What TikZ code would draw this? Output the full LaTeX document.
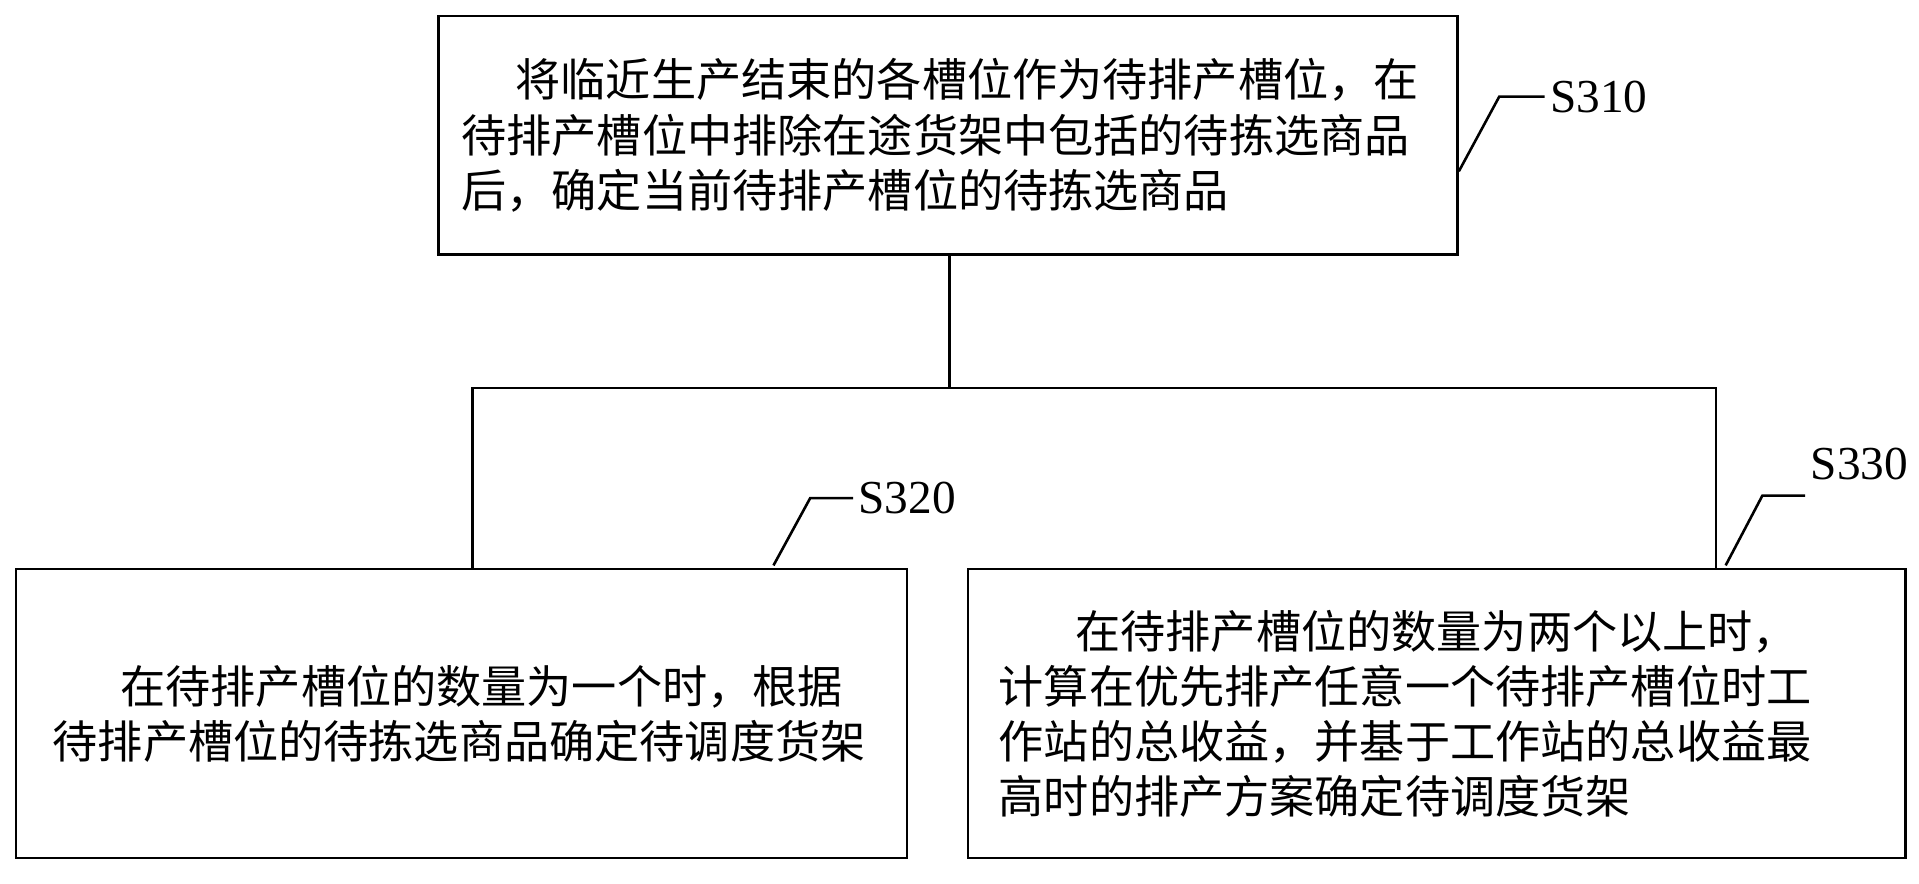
\documentclass[tikz,border=0pt]{standalone}
\usepackage{fontspec}
\setmainfont{Liberation Serif}
\newfontfamily\cjk{Noto Sans CJK SC}
\usetikzlibrary{positioning}
\tikzset{
  stepbox/.style={draw, line width=1.2pt, align=left, anchor=north west,
    font=\cjk\fontsize{21pt}{25.6pt}\selectfont, inner ysep=0pt},
  lbl/.style={font=\fontsize{22pt}{24pt}\selectfont, anchor=west, inner sep=2pt},
  lead/.style={line width=1.2pt}
}
\begin{document}
\begin{tikzpicture}[x=0.02cm, y=-0.02cm, line width=1.2pt]
  \useasboundingbox (0,0) rectangle (1568,722);

  \node[stepbox, minimum width=833*0.02cm, minimum height=195*0.02cm,
        text width=795*0.02cm, inner xsep=0.38cm] (s310) at (357,12)
    {\hspace*{1.2em}将临近生产结束的各槽位作为待排产槽位，在\\
     待排产槽位中排除在途货架中包括的待拣选商品\\
     后，确定当前待排产槽位的待拣选商品};

  \node[stepbox, minimum width=728*0.02cm, minimum height=236*0.02cm,
        text width=668*0.02cm, inner xsep=0.6cm] (s320) at (12,464)
    {\hspace*{1.5em}在待排产槽位的数量为一个时，根据\\
     待排产槽位的待拣选商品确定待调度货架};

  \node[stepbox, minimum width=766*0.02cm, minimum height=236*0.02cm,
        text width=716*0.02cm, inner xsep=0.5cm] (s330) at (790,464)
    {\hspace*{1.7em}在待排产槽位的数量为两个以上时，\\
     计算在优先排产任意一个待排产槽位时工\\
     作站的总收益，并基于工作站的总收益最\\
     高时的排产方案确定待调度货架};

  % bracket between the steps
  \coordinate (j) at (776,317);
  \coordinate (jl) at (386,317);
  \coordinate (jr) at (1402,317);
  \draw (s310.south -| j) -- (j);
  \draw (s320.north -| jl) -- (jl) -- (jr) -- (s330.north -| jr);

  % step labels
  \coordinate (a1) at (1192,140);
  \coordinate (b1) at (1225,79);
  \node[lbl] (t310) at (1262,79) {S310};
  \draw[lead] (a1) -- (b1) -- (t310.west);

  \coordinate (a2) at (632,462);
  \coordinate (b2) at (662,407);
  \node[lbl] (t320) at (697,407) {S320};
  \draw[lead] (a2) -- (b2) -- (t320.west);

  \coordinate (a3) at (1410,462);
  \coordinate (b3) at (1440,405);
  \node[lbl] (t330) at (1475,379) {S330};
  \draw[lead] (a3) -- (b3) -- (b3 -| t330.west);
\end{tikzpicture}
\end{document}
